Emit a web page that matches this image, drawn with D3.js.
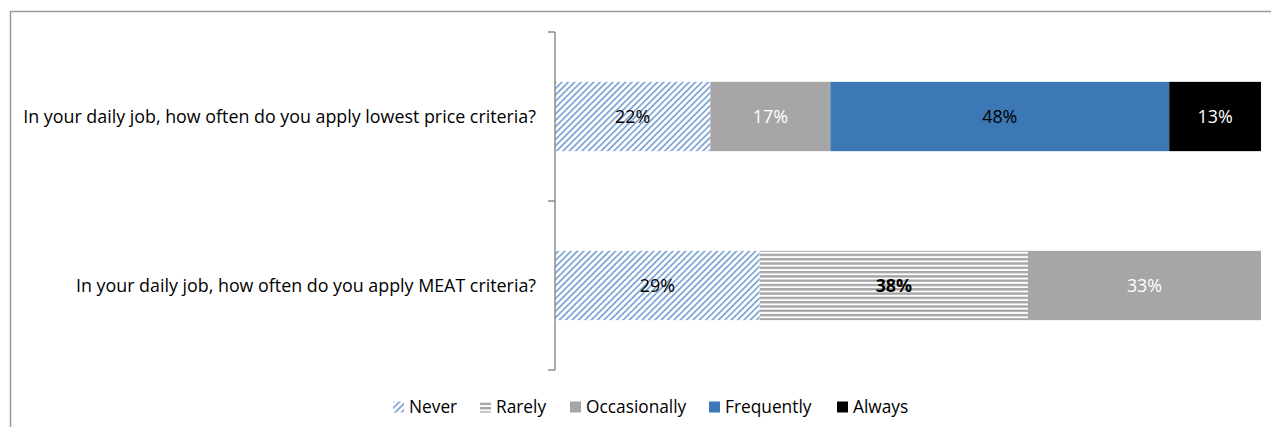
<!DOCTYPE html>
<html>
<head>
<meta charset="utf-8">
<script src="https://cdn.jsdelivr.net/npm/d3@7"></script>
<style>
  body { margin: 0; background: #fff; }
  svg { display: block; font-family: "Open Sans", "Noto Sans", sans-serif; }
</style>
</head>
<body>
<svg id="chart" width="1271" height="427"></svg>
<script>
// survey questions (top to bottom)
const questions = [
  "In your daily job, how often do you apply lowest price criteria?",
  "In your daily job, how often do you apply MEAT criteria?"
];
const answers = ["Never", "Rarely", "Occasionally", "Frequently", "Always"];
// share of respondents per answer, per question
const neverVals = [22, 29];
const rarelyVals = [0, 38];
const occasionallyVals = [17, 33];
const frequentlyVals = [48, 0];
const alwaysVals = [13, 0];

const series = [neverVals, rarelyVals, occasionallyVals, frequentlyVals, alwaysVals];
const fills = ["url(#never)", "url(#rarely)", "#a6a6a6", "#3d78b6", "#000000"];
const labelColor = ["#000", "#000", "#fff", "#000", "#fff"];
const labelBold = [false, true, false, false, false];

const svg = d3.select("#chart");
const W = 1271, H = 427;

// pick a font size so the long question spans like the original (x 23..536)
const probe = svg.append("text").attr("font-size", 10).text(questions[0]);
const fs = 10 * 513 / probe.node().getComputedTextLength();
probe.remove();

const defs = svg.append("defs");
let p = defs.append("pattern").attr("id", "never")
  .attr("patternUnits", "userSpaceOnUse").attr("width", 4.5).attr("height", 4.5)
  .attr("patternTransform", "rotate(45)");
p.append("rect").attr("width", 4.5).attr("height", 4.5).attr("fill", "#fff");
p.append("rect").attr("width", 1.7).attr("height", 4.5).attr("fill", "#7ba3d6");

p = defs.append("pattern").attr("id", "rarely")
  .attr("patternUnits", "userSpaceOnUse").attr("width", 8).attr("height", 4.3);
p.append("rect").attr("width", 8).attr("height", 4.3).attr("fill", "#fff");
p.append("rect").attr("width", 8).attr("height", 2.4).attr("fill", "#a6a6a6");

// outer chart border (only left & top visible)
svg.append("path")
  .attr("d", `M10.5,${H} V11.5 H${W}`)
  .attr("fill", "none").attr("stroke", "#9a9a9a").attr("stroke-width", 1.5);

const x = d3.scaleLinear().domain([0, 100]).range([555, 1261]);
const y = d3.scaleBand().domain(questions).range([32, 370]).paddingInner(0.59).paddingOuter(0.295);

// stacked data
const stacked = questions.map((q, i) => {
  let acc = 0;
  return series.map((s, k) => {
    const d = { q, k, v: s[i], x0: acc };
    acc += s[i];
    d.x1 = acc;
    return d;
  }).filter(d => d.v > 0);
});

const rows = svg.selectAll("g.row").data(stacked).join("g").attr("class", "row");

rows.selectAll("rect").data(d => d).join("rect")
  .attr("x", d => x(d.x0))
  .attr("y", d => y(d.q))
  .attr("width", d => x(d.x1) - x(d.x0))
  .attr("height", y.bandwidth())
  .attr("fill", d => fills[d.k]);

rows.selectAll("text").data(d => d).join("text")
  .attr("x", d => (x(d.x0) + x(d.x1)) / 2)
  .attr("y", d => y(d.q) + y.bandwidth() / 2)
  .attr("dy", "0.35em")
  .attr("text-anchor", "middle")
  .attr("font-size", fs)
  .attr("font-weight", d => labelBold[d.k] ? "bold" : "normal")
  .attr("fill", d => labelColor[d.k])
  .text(d => d.v + "%");

// category axis with ticks between categories
const ax = svg.append("g").attr("stroke", "#8c8c8c").attr("stroke-width", 1.5);
ax.append("line").attr("x1", 555).attr("x2", 555).attr("y1", 32).attr("y2", 370);
const tickYs = [32, (y(questions[0]) + y.bandwidth() + y(questions[1])) / 2, 370];
ax.selectAll("line.t").data(tickYs).join("line").attr("class", "t")
  .attr("x1", 548).attr("x2", 555).attr("y1", d => d).attr("y2", d => d);

svg.selectAll("text.q").data(questions).join("text").attr("class", "q")
  .attr("x", 536)
  .attr("y", d => y(d) + y.bandwidth() / 2)
  .attr("dy", "0.35em")
  .attr("text-anchor", "end")
  .attr("font-size", fs)
  .attr("fill", "#000")
  .text(d => d);

// legend
const legendX = [393, 480, 570, 709, 837];
const lg = svg.selectAll("g.lg").data(answers).join("g").attr("class", "lg")
  .attr("transform", (d, i) => `translate(${legendX[i]},407)`);
lg.append("rect").attr("x", 0).attr("y", -5.5).attr("width", 11).attr("height", 11)
  .attr("fill", (d, i) => fills[i]);
lg.append("text").attr("x", 16).attr("dy", "0.35em")
  .attr("font-size", fs * 0.97).attr("fill", "#000")
  .text(d => d);
</script>
</body>
</html>
